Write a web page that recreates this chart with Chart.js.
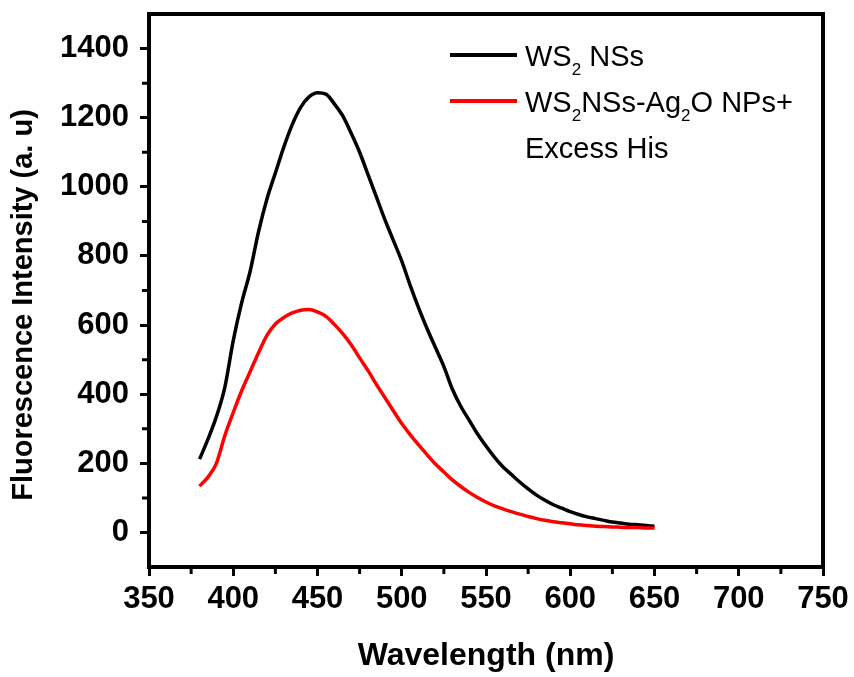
<!DOCTYPE html>
<html lang="en">

<head>
    <meta charset="UTF-8">
    <title>Fluorescence spectra</title>
    <script src="https://cdn.jsdelivr.net/npm/chart.js"></script>
    <style>
        body {
            margin: 0;
            background: #fff;
        }
    </style>
</head>

<body>
    <canvas id="spectraChart" width="854" height="677"></canvas>

    <script>
        // Data (wavelength in nm, intensity in a.u.)
        const wavelengths = [380, 385, 390, 395, 400, 405, 410, 415, 420, 425, 430, 435, 440, 445, 450, 455, 460, 465, 470, 475,
            480, 485, 490, 495, 500, 505, 510, 515, 520, 525, 530, 535, 540, 545, 550, 555, 560, 565, 570, 575,
            580, 585, 590, 595, 600, 605, 610, 615, 620, 625, 630, 635, 640, 645, 650];
        const ws2Values = [212, 270, 335, 420, 555, 665, 755, 870, 965, 1040, 1115, 1180, 1230, 1260, 1272, 1268, 1240, 1205, 1155, 1100,
            1035, 970, 905, 845, 785, 715, 650, 590, 535, 480, 415, 365, 325, 285, 250, 218, 190, 168, 146, 126,
            108, 93, 80, 70, 60, 52, 45, 40, 35, 30, 27, 24, 22, 20, 18];
        const ag2oHisValues = [134, 160, 200, 280, 347, 410, 465, 520, 570, 603, 622, 635, 643, 645, 638, 625, 602, 575, 543, 505,
            468, 428, 390, 352, 315, 283, 253, 225, 198, 175, 152, 133, 116, 101, 88, 77, 68, 60, 53, 46,
            40, 35, 31, 28, 25, 22, 20, 18, 17, 16, 15, 14, 14, 13, 13];
        // "_2" marks a subscript 2, "|" a line break
        const seriesNames = ['WS_2 NSs', 'WS_2NSs-Ag_2O NPs+|Excess His'];
        const xMajorTicks = [350, 400, 450, 500, 550, 600, 650, 700, 750];
        const xMinorTicks = [375, 425, 475, 525, 575, 625, 675, 725];
        const yMajorTicks = [0, 200, 400, 600, 800, 1000, 1200, 1400];
        const yMinorTicks = [100, 300, 500, 700, 900, 1100, 1300];

        const FONT = 'Arial, "Liberation Sans", sans-serif';

        function toPoints(values) {
            return wavelengths.map((w, i) => ({ x: w, y: values[i] }));
        }

        // draws text where "_c" means c is a subscript
        function drawRich(ctx, text, x, y) {
            let cx = x;
            for (let i = 0; i < text.length; i++) {
                if (text[i] === '_') {
                    ctx.font = '17px ' + FONT;
                    ctx.fillText(text[i + 1], cx, y + 9);
                    cx += ctx.measureText(text[i + 1]).width;
                    i++;
                } else {
                    ctx.font = '29px ' + FONT;
                    ctx.fillText(text[i], cx, y);
                    cx += ctx.measureText(text[i]).width;
                }
            }
        }

        // frame, minor ticks, y title and legend
        const decorations = {
            id: 'decorations',
            afterDraw(chart) {
                const ctx = chart.ctx;
                const area = chart.chartArea;
                const xs = chart.scales.x;
                const ys = chart.scales.y;
                ctx.save();
                ctx.strokeStyle = '#000';

                // top and right sides of the box
                ctx.lineWidth = 4;
                ctx.beginPath();
                ctx.moveTo(area.left - 2, area.top);
                ctx.lineTo(area.right, area.top);
                ctx.lineTo(area.right, area.bottom + 2);
                ctx.stroke();

                // minor ticks
                ctx.lineWidth = 3;
                ctx.beginPath();
                xMinorTicks.forEach(v => {
                    const px = xs.getPixelForValue(v);
                    ctx.moveTo(px, area.bottom);
                    ctx.lineTo(px, area.bottom + 7);
                });
                yMinorTicks.forEach(v => {
                    const py = ys.getPixelForValue(v);
                    ctx.moveTo(area.left, py);
                    ctx.lineTo(area.left - 7, py);
                });
                ctx.stroke();

                // y axis title
                ctx.fillStyle = '#000';
                ctx.font = 'bold 29px ' + FONT;
                ctx.textAlign = 'center';
                ctx.textBaseline = 'middle';
                ctx.translate(24, 305);
                ctx.rotate(-Math.PI / 2);
                ctx.fillText('Fluorescence Intensity (a. u)', 0, 0);
                ctx.setTransform(1, 0, 0, 1, 0, 0);

                // legend
                ctx.textAlign = 'left';
                ctx.textBaseline = 'alphabetic';
                let rowY = 55;
                chart.data.datasets.forEach(ds => {
                    ctx.strokeStyle = ds.borderColor;
                    ctx.lineWidth = 4;
                    ctx.beginPath();
                    ctx.moveTo(450, rowY);
                    ctx.lineTo(517, rowY);
                    ctx.stroke();
                    ds.label.split('|').forEach(line => {
                        ctx.fillStyle = '#000';
                        drawRich(ctx, line, 525, rowY + 11);
                        rowY += 46;
                    });
                });
                ctx.restore();
            }
        };

        const ctx = document.getElementById('spectraChart').getContext('2d');
        new Chart(ctx, {
            type: 'line',
            data: {
                datasets: [{
                    label: seriesNames[0],
                    data: toPoints(ws2Values),
                    borderColor: '#000000',
                    borderWidth: 3.5,
                    pointRadius: 0,
                    cubicInterpolationMode: 'monotone',
                    order: 2
                }, {
                    label: seriesNames[1],
                    data: toPoints(ag2oHisValues),
                    borderColor: '#ff0000',
                    borderWidth: 3.5,
                    pointRadius: 0,
                    cubicInterpolationMode: 'monotone',
                    order: 1
                }]
            },
            options: {
                responsive: false,
                animation: false,
                layout: {
                    padding: { top: 14, right: 31, left: 0, bottom: 0 }
                },
                plugins: {
                    legend: { display: false },
                    tooltip: { enabled: false }
                },
                scales: {
                    x: {
                        type: 'linear',
                        min: 350,
                        max: 750,
                        afterBuildTicks: scale => {
                            scale.ticks = xMajorTicks.map(v => ({ value: v }));
                        },
                        afterFit: scale => {
                            scale.height = 110;
                            scale.paddingLeft = 0;
                            scale.paddingRight = 0;
                        },
                        ticks: {
                            autoSkip: false,
                            maxRotation: 0,
                            padding: 5,
                            color: '#000',
                            font: { family: FONT, size: 31, weight: 'bold' },
                            callback: v => String(v)
                        },
                        grid: {
                            drawOnChartArea: false,
                            drawTicks: true,
                            tickLength: 9,
                            tickWidth: 3,
                            tickColor: '#000'
                        },
                        border: { display: true, color: '#000', width: 4 },
                        title: {
                            display: true,
                            text: 'Wavelength (nm)',
                            color: '#000',
                            font: { family: FONT, size: 32, weight: 'bold' },
                            padding: { top: 0, bottom: 2 }
                        }
                    },
                    y: {
                        min: -100,
                        max: 1500,
                        afterBuildTicks: scale => {
                            scale.ticks = yMajorTicks.map(v => ({ value: v }));
                        },
                        afterFit: scale => {
                            scale.width = 149;
                            scale.paddingTop = 0;
                            scale.paddingBottom = 0;
                        },
                        ticks: {
                            autoSkip: false,
                            padding: 11,
                            color: '#000',
                            font: { family: FONT, size: 31, weight: 'bold' },
                            callback: v => String(v)
                        },
                        grid: {
                            drawOnChartArea: false,
                            drawTicks: true,
                            tickLength: 9,
                            tickWidth: 3,
                            tickColor: '#000'
                        },
                        border: { display: true, color: '#000', width: 4 }
                    }
                }
            },
            plugins: [decorations]
        });
    </script>
</body>

</html>
